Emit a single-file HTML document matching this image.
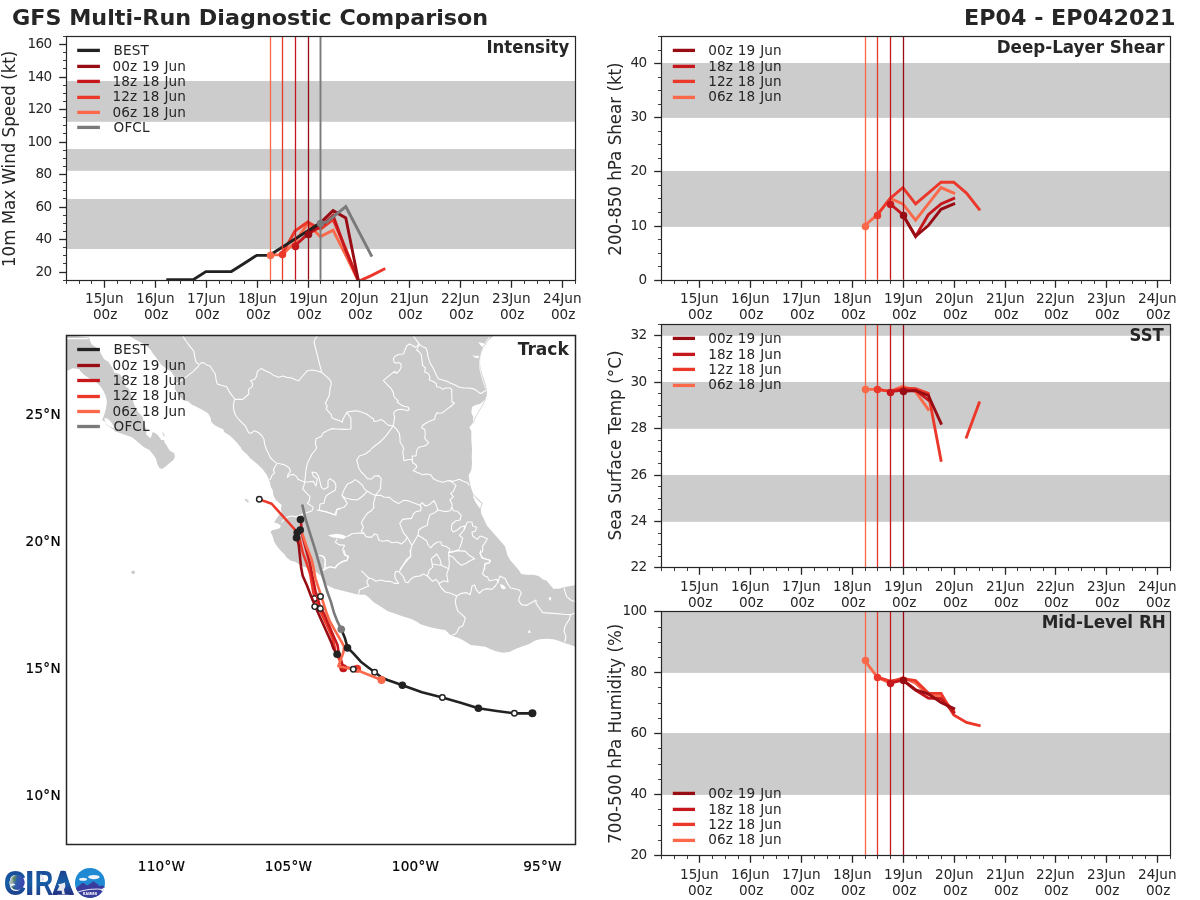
<!DOCTYPE html>
<html lang="en">
<head>
<meta charset="utf-8">
<title>GFS Multi-Run Diagnostic Comparison - EP04 - EP042021</title>
<style>
html,body{margin:0;padding:0;background:#fff;}
body{width:1200px;height:900px;overflow:hidden;font-family:"DejaVu Sans","Liberation Sans",sans-serif;}
svg{display:block;}
</style>
</head>
<body>
<svg width="1200" height="900" viewBox="0 0 1200 900" font-family="'DejaVu Sans', 'Liberation Sans', sans-serif" fill="#262626">
<rect width="1200" height="900" fill="#ffffff"/>
<defs>
<clipPath id="c1"><rect x="66.5" y="36.5" width="509" height="244"/></clipPath>
<clipPath id="c2"><rect x="661.5" y="36.5" width="509" height="244"/></clipPath>
<clipPath id="c3"><rect x="661.5" y="324.5" width="509" height="243"/></clipPath>
<clipPath id="c4"><rect x="661.5" y="611.5" width="509" height="244"/></clipPath>
<clipPath id="cm"><rect x="66.5" y="335.5" width="509" height="509"/></clipPath>
</defs>
<text transform="translate(12,24.8) scale(1.065,1)" font-size="20.9" font-weight="bold">GFS Multi-Run Diagnostic Comparison</text>
<text transform="translate(1175.5,24.8) scale(1.065,1)" font-size="20.9" font-weight="bold" text-anchor="end">EP04 - EP042021</text>
<rect x="66.5" y="81" width="509" height="40.8" fill="#cccccc"/>
<rect x="66.5" y="149" width="509" height="21.8" fill="#cccccc"/>
<rect x="66.5" y="199" width="509" height="50" fill="#cccccc"/>
<g clip-path="url(#c1)">
<polyline points="269.5,254.84 282.22,254.84 294.94,242.33 307.66,223.65 320.38,236.65 333.09,230.15 345.81,255.33 358.53,281.32" fill="none" stroke="#fb694a" stroke-width="2.9" stroke-linejoin="miter" stroke-linecap="square"/>
<polyline points="282.22,254.03 294.94,230.96 307.66,222.02 320.38,229.34 333.09,219.59 345.81,248.83 358.53,281.32 371.25,275.64 383.97,269.14" fill="none" stroke="#ec382b" stroke-width="2.9" stroke-linejoin="miter" stroke-linecap="square"/>
<polyline points="294.94,245.58 307.66,234.21 320.38,226.9 333.09,215.53 345.81,250.46 358.53,281.32" fill="none" stroke="#c5171c" stroke-width="2.9" stroke-linejoin="miter" stroke-linecap="square"/>
<polyline points="307.66,234.21 320.38,222.84 333.09,210.65 345.81,217.96 358.53,281.32" fill="none" stroke="#980c13" stroke-width="2.9" stroke-linejoin="miter" stroke-linecap="square"/>
<polyline points="167.75,279.7 180.47,279.7 193.19,279.7 205.91,271.58 218.62,271.58 231.34,271.58 244.06,263.45 256.78,255.33 269.5,255.33 282.22,247.21 294.94,239.08 307.66,230.96 320.38,222.84" fill="none" stroke="#222222" stroke-width="2.9" stroke-linejoin="miter" stroke-linecap="square"/>
<polyline points="320.38,222.84 326.68,222.19 345.81,206.59 371.25,255.33" fill="none" stroke="#7a7a7a" stroke-width="2.9" stroke-linejoin="miter" stroke-linecap="square"/>
<line x1="270.5" x2="270.5" y1="36" y2="279.7" stroke="#fb694a" stroke-width="1.3"/>
<line x1="282.5" x2="282.5" y1="36" y2="279.7" stroke="#ec382b" stroke-width="1.3"/>
<line x1="295.5" x2="295.5" y1="36" y2="279.7" stroke="#c5171c" stroke-width="1.3"/>
<line x1="308.5" x2="308.5" y1="36" y2="279.7" stroke="#980c13" stroke-width="1.3"/>
<line x1="320.5" x2="320.5" y1="36" y2="279.7" stroke="#7a7a7a" stroke-width="1.9"/>
<circle cx="270.5" cy="255.5" r="3.75" fill="#fb694a"/>
<circle cx="282.5" cy="254.5" r="3.75" fill="#ec382b"/>
<circle cx="295.5" cy="246.5" r="3.75" fill="#c5171c"/>
<circle cx="308.5" cy="234.5" r="3.75" fill="#980c13"/>
<circle cx="320.5" cy="223.5" r="3.75" fill="#7a7a7a"/>
</g>
<rect x="66.5" y="36.5" width="509" height="244" fill="none" stroke="#262626" stroke-width="1.2"/>
<line x1="63" x2="66.5" y1="280.5" y2="280.5" stroke="#262626" stroke-width="0.9"/>
<line x1="59.2" x2="66.5" y1="272.5" y2="272.5" stroke="#262626" stroke-width="1.3"/>
<text x="51.6" y="275.9" text-anchor="end" font-size="13.6" letter-spacing="-0.6">20</text>
<line x1="63" x2="66.5" y1="263.5" y2="263.5" stroke="#262626" stroke-width="0.9"/>
<line x1="63" x2="66.5" y1="255.5" y2="255.5" stroke="#262626" stroke-width="0.9"/>
<line x1="63" x2="66.5" y1="247.5" y2="247.5" stroke="#262626" stroke-width="0.9"/>
<line x1="59.2" x2="66.5" y1="239.5" y2="239.5" stroke="#262626" stroke-width="1.3"/>
<text x="51.6" y="242.9" text-anchor="end" font-size="13.6" letter-spacing="-0.6">40</text>
<line x1="63" x2="66.5" y1="231.5" y2="231.5" stroke="#262626" stroke-width="0.9"/>
<line x1="63" x2="66.5" y1="223.5" y2="223.5" stroke="#262626" stroke-width="0.9"/>
<line x1="63" x2="66.5" y1="215.5" y2="215.5" stroke="#262626" stroke-width="0.9"/>
<line x1="59.2" x2="66.5" y1="207.5" y2="207.5" stroke="#262626" stroke-width="1.3"/>
<text x="51.6" y="210.9" text-anchor="end" font-size="13.6" letter-spacing="-0.6">60</text>
<line x1="63" x2="66.5" y1="198.5" y2="198.5" stroke="#262626" stroke-width="0.9"/>
<line x1="63" x2="66.5" y1="190.5" y2="190.5" stroke="#262626" stroke-width="0.9"/>
<line x1="63" x2="66.5" y1="182.5" y2="182.5" stroke="#262626" stroke-width="0.9"/>
<line x1="59.2" x2="66.5" y1="174.5" y2="174.5" stroke="#262626" stroke-width="1.3"/>
<text x="51.6" y="177.9" text-anchor="end" font-size="13.6" letter-spacing="-0.6">80</text>
<line x1="63" x2="66.5" y1="166.5" y2="166.5" stroke="#262626" stroke-width="0.9"/>
<line x1="63" x2="66.5" y1="158.5" y2="158.5" stroke="#262626" stroke-width="0.9"/>
<line x1="63" x2="66.5" y1="150.5" y2="150.5" stroke="#262626" stroke-width="0.9"/>
<line x1="59.2" x2="66.5" y1="142.5" y2="142.5" stroke="#262626" stroke-width="1.3"/>
<text x="51.6" y="145.9" text-anchor="end" font-size="13.6" letter-spacing="-0.6">100</text>
<line x1="63" x2="66.5" y1="133.5" y2="133.5" stroke="#262626" stroke-width="0.9"/>
<line x1="63" x2="66.5" y1="125.5" y2="125.5" stroke="#262626" stroke-width="0.9"/>
<line x1="63" x2="66.5" y1="117.5" y2="117.5" stroke="#262626" stroke-width="0.9"/>
<line x1="59.2" x2="66.5" y1="109.5" y2="109.5" stroke="#262626" stroke-width="1.3"/>
<text x="51.6" y="112.9" text-anchor="end" font-size="13.6" letter-spacing="-0.6">120</text>
<line x1="63" x2="66.5" y1="101.5" y2="101.5" stroke="#262626" stroke-width="0.9"/>
<line x1="63" x2="66.5" y1="93.5" y2="93.5" stroke="#262626" stroke-width="0.9"/>
<line x1="63" x2="66.5" y1="85.5" y2="85.5" stroke="#262626" stroke-width="0.9"/>
<line x1="59.2" x2="66.5" y1="77.5" y2="77.5" stroke="#262626" stroke-width="1.3"/>
<text x="51.6" y="80.9" text-anchor="end" font-size="13.6" letter-spacing="-0.6">140</text>
<line x1="63" x2="66.5" y1="68.5" y2="68.5" stroke="#262626" stroke-width="0.9"/>
<line x1="63" x2="66.5" y1="60.5" y2="60.5" stroke="#262626" stroke-width="0.9"/>
<line x1="63" x2="66.5" y1="52.5" y2="52.5" stroke="#262626" stroke-width="0.9"/>
<line x1="59.2" x2="66.5" y1="44.5" y2="44.5" stroke="#262626" stroke-width="1.3"/>
<text x="51.6" y="47.9" text-anchor="end" font-size="13.6" letter-spacing="-0.6">160</text>
<line x1="63" x2="66.5" y1="36.5" y2="36.5" stroke="#262626" stroke-width="0.9"/>
<line x1="66.5" x2="66.5" y1="280.5" y2="284" stroke="#262626" stroke-width="0.9"/>
<line x1="79.5" x2="79.5" y1="280.5" y2="284" stroke="#262626" stroke-width="0.9"/>
<line x1="91.5" x2="91.5" y1="280.5" y2="284" stroke="#262626" stroke-width="0.9"/>
<line x1="104.5" x2="104.5" y1="280.5" y2="287.8" stroke="#262626" stroke-width="1.3"/>
<line x1="117.5" x2="117.5" y1="280.5" y2="284" stroke="#262626" stroke-width="0.9"/>
<line x1="130.5" x2="130.5" y1="280.5" y2="284" stroke="#262626" stroke-width="0.9"/>
<line x1="142.5" x2="142.5" y1="280.5" y2="284" stroke="#262626" stroke-width="0.9"/>
<line x1="155.5" x2="155.5" y1="280.5" y2="287.8" stroke="#262626" stroke-width="1.3"/>
<line x1="168.5" x2="168.5" y1="280.5" y2="284" stroke="#262626" stroke-width="0.9"/>
<line x1="180.5" x2="180.5" y1="280.5" y2="284" stroke="#262626" stroke-width="0.9"/>
<line x1="193.5" x2="193.5" y1="280.5" y2="284" stroke="#262626" stroke-width="0.9"/>
<line x1="206.5" x2="206.5" y1="280.5" y2="287.8" stroke="#262626" stroke-width="1.3"/>
<line x1="219.5" x2="219.5" y1="280.5" y2="284" stroke="#262626" stroke-width="0.9"/>
<line x1="231.5" x2="231.5" y1="280.5" y2="284" stroke="#262626" stroke-width="0.9"/>
<line x1="244.5" x2="244.5" y1="280.5" y2="284" stroke="#262626" stroke-width="0.9"/>
<line x1="257.5" x2="257.5" y1="280.5" y2="287.8" stroke="#262626" stroke-width="1.3"/>
<line x1="270.5" x2="270.5" y1="280.5" y2="284" stroke="#262626" stroke-width="0.9"/>
<line x1="282.5" x2="282.5" y1="280.5" y2="284" stroke="#262626" stroke-width="0.9"/>
<line x1="295.5" x2="295.5" y1="280.5" y2="284" stroke="#262626" stroke-width="0.9"/>
<line x1="308.5" x2="308.5" y1="280.5" y2="287.8" stroke="#262626" stroke-width="1.3"/>
<line x1="320.5" x2="320.5" y1="280.5" y2="284" stroke="#262626" stroke-width="0.9"/>
<line x1="333.5" x2="333.5" y1="280.5" y2="284" stroke="#262626" stroke-width="0.9"/>
<line x1="346.5" x2="346.5" y1="280.5" y2="284" stroke="#262626" stroke-width="0.9"/>
<line x1="359.5" x2="359.5" y1="280.5" y2="287.8" stroke="#262626" stroke-width="1.3"/>
<line x1="371.5" x2="371.5" y1="280.5" y2="284" stroke="#262626" stroke-width="0.9"/>
<line x1="384.5" x2="384.5" y1="280.5" y2="284" stroke="#262626" stroke-width="0.9"/>
<line x1="397.5" x2="397.5" y1="280.5" y2="284" stroke="#262626" stroke-width="0.9"/>
<line x1="409.5" x2="409.5" y1="280.5" y2="287.8" stroke="#262626" stroke-width="1.3"/>
<line x1="422.5" x2="422.5" y1="280.5" y2="284" stroke="#262626" stroke-width="0.9"/>
<line x1="435.5" x2="435.5" y1="280.5" y2="284" stroke="#262626" stroke-width="0.9"/>
<line x1="448.5" x2="448.5" y1="280.5" y2="284" stroke="#262626" stroke-width="0.9"/>
<line x1="460.5" x2="460.5" y1="280.5" y2="287.8" stroke="#262626" stroke-width="1.3"/>
<line x1="473.5" x2="473.5" y1="280.5" y2="284" stroke="#262626" stroke-width="0.9"/>
<line x1="486.5" x2="486.5" y1="280.5" y2="284" stroke="#262626" stroke-width="0.9"/>
<line x1="498.5" x2="498.5" y1="280.5" y2="284" stroke="#262626" stroke-width="0.9"/>
<line x1="511.5" x2="511.5" y1="280.5" y2="287.8" stroke="#262626" stroke-width="1.3"/>
<line x1="524.5" x2="524.5" y1="280.5" y2="284" stroke="#262626" stroke-width="0.9"/>
<line x1="537.5" x2="537.5" y1="280.5" y2="284" stroke="#262626" stroke-width="0.9"/>
<line x1="549.5" x2="549.5" y1="280.5" y2="284" stroke="#262626" stroke-width="0.9"/>
<line x1="562.5" x2="562.5" y1="280.5" y2="287.8" stroke="#262626" stroke-width="1.3"/>
<line x1="575.5" x2="575.5" y1="280.5" y2="284" stroke="#262626" stroke-width="0.9"/>
<text x="104.3" y="302.9" text-anchor="middle" font-size="13.6">15Jun</text>
<text x="105.1" y="318.7" text-anchor="middle" font-size="13.6">00z</text>
<text x="155.3" y="302.9" text-anchor="middle" font-size="13.6">16Jun</text>
<text x="156.1" y="318.7" text-anchor="middle" font-size="13.6">00z</text>
<text x="206.3" y="302.9" text-anchor="middle" font-size="13.6">17Jun</text>
<text x="207.1" y="318.7" text-anchor="middle" font-size="13.6">00z</text>
<text x="257.3" y="302.9" text-anchor="middle" font-size="13.6">18Jun</text>
<text x="258.1" y="318.7" text-anchor="middle" font-size="13.6">00z</text>
<text x="308.3" y="302.9" text-anchor="middle" font-size="13.6">19Jun</text>
<text x="309.1" y="318.7" text-anchor="middle" font-size="13.6">00z</text>
<text x="359.3" y="302.9" text-anchor="middle" font-size="13.6">20Jun</text>
<text x="360.1" y="318.7" text-anchor="middle" font-size="13.6">00z</text>
<text x="409.3" y="302.9" text-anchor="middle" font-size="13.6">21Jun</text>
<text x="410.1" y="318.7" text-anchor="middle" font-size="13.6">00z</text>
<text x="460.3" y="302.9" text-anchor="middle" font-size="13.6">22Jun</text>
<text x="461.1" y="318.7" text-anchor="middle" font-size="13.6">00z</text>
<text x="511.3" y="302.9" text-anchor="middle" font-size="13.6">23Jun</text>
<text x="512.1" y="318.7" text-anchor="middle" font-size="13.6">00z</text>
<text x="562.3" y="302.9" text-anchor="middle" font-size="13.6">24Jun</text>
<text x="563.1" y="318.7" text-anchor="middle" font-size="13.6">00z</text>
<line x1="77.2" x2="99.9" y1="50.4" y2="50.4" stroke="#222222" stroke-width="3.3"/>
<text x="113.6" y="55" font-size="13.6" letter-spacing="0.1" word-spacing="0.5">BEST</text>
<line x1="77.2" x2="99.9" y1="66.4" y2="66.4" stroke="#980c13" stroke-width="3.3"/>
<text x="112.4" y="71" font-size="13.6" letter-spacing="0.1" word-spacing="0.5">00z 19 Jun</text>
<line x1="77.2" x2="99.9" y1="81.4" y2="81.4" stroke="#c5171c" stroke-width="3.3"/>
<text x="112.4" y="86" font-size="13.6" letter-spacing="0.1" word-spacing="0.5">18z 18 Jun</text>
<line x1="77.2" x2="99.9" y1="97.4" y2="97.4" stroke="#ec382b" stroke-width="3.3"/>
<text x="112.4" y="101" font-size="13.6" letter-spacing="0.1" word-spacing="0.5">12z 18 Jun</text>
<line x1="77.2" x2="99.9" y1="112.4" y2="112.4" stroke="#fb694a" stroke-width="3.3"/>
<text x="112.4" y="117" font-size="13.6" letter-spacing="0.1" word-spacing="0.5">06z 18 Jun</text>
<line x1="77.2" x2="99.9" y1="127.4" y2="127.4" stroke="#7a7a7a" stroke-width="3.3"/>
<text x="113.6" y="132" font-size="13.6" letter-spacing="0.1" word-spacing="0.5">OFCL</text>
<text transform="translate(569.2,52.7) scale(0.916,1)" text-anchor="end" font-size="18.0" font-weight="bold">Intensity</text>
<text transform="translate(14.6,158.85) rotate(-90) scale(0.9424,1)" text-anchor="middle" font-size="17.7">10m Max Wind Speed (kt)</text>
<rect x="661.5" y="63" width="509" height="54.9" fill="#cccccc"/>
<rect x="661.5" y="171" width="509" height="55.9" fill="#cccccc"/>
<g clip-path="url(#c2)">
<polyline points="864.7,225.54 877.42,214.71 890.14,198.47 902.86,203.88 915.58,220.13 928.29,203.88 941.01,187.64 953.73,193.05" fill="none" stroke="#fb694a" stroke-width="2.9" stroke-linejoin="miter" stroke-linecap="square"/>
<polyline points="877.42,214.71 890.14,198.47 902.86,187.64 915.58,203.88 928.29,193.05 941.01,182.22 953.73,182.22 966.45,193.05 979.17,209.3" fill="none" stroke="#ec382b" stroke-width="2.9" stroke-linejoin="miter" stroke-linecap="square"/>
<polyline points="890.14,203.88 902.86,214.71 915.58,236.38 928.29,214.71 941.01,203.88 953.73,198.47" fill="none" stroke="#c5171c" stroke-width="2.9" stroke-linejoin="miter" stroke-linecap="square"/>
<polyline points="902.86,214.71 915.58,236.38 928.29,225.54 941.01,209.3 953.73,203.88" fill="none" stroke="#980c13" stroke-width="2.9" stroke-linejoin="miter" stroke-linecap="square"/>
<line x1="865.5" x2="865.5" y1="36" y2="279.7" stroke="#fb694a" stroke-width="1.3"/>
<line x1="877.5" x2="877.5" y1="36" y2="279.7" stroke="#ec382b" stroke-width="1.3"/>
<line x1="890.5" x2="890.5" y1="36" y2="279.7" stroke="#c5171c" stroke-width="1.3"/>
<line x1="903.5" x2="903.5" y1="36" y2="279.7" stroke="#980c13" stroke-width="1.3"/>
<circle cx="865.5" cy="226.5" r="3.75" fill="#fb694a"/>
<circle cx="877.5" cy="215.5" r="3.75" fill="#ec382b"/>
<circle cx="890.5" cy="204.5" r="3.75" fill="#c5171c"/>
<circle cx="903.5" cy="215.5" r="3.75" fill="#980c13"/>
</g>
<rect x="661.5" y="36.5" width="509" height="244" fill="none" stroke="#262626" stroke-width="1.2"/>
<line x1="654.2" x2="661.5" y1="280.5" y2="280.5" stroke="#262626" stroke-width="1.3"/>
<text x="646.6" y="283.9" text-anchor="end" font-size="13.6" letter-spacing="-0.6">0</text>
<line x1="658" x2="661.5" y1="266.5" y2="266.5" stroke="#262626" stroke-width="0.9"/>
<line x1="658" x2="661.5" y1="253.5" y2="253.5" stroke="#262626" stroke-width="0.9"/>
<line x1="658" x2="661.5" y1="239.5" y2="239.5" stroke="#262626" stroke-width="0.9"/>
<line x1="654.2" x2="661.5" y1="226.5" y2="226.5" stroke="#262626" stroke-width="1.3"/>
<text x="646.6" y="229.9" text-anchor="end" font-size="13.6" letter-spacing="-0.6">10</text>
<line x1="658" x2="661.5" y1="212.5" y2="212.5" stroke="#262626" stroke-width="0.9"/>
<line x1="658" x2="661.5" y1="198.5" y2="198.5" stroke="#262626" stroke-width="0.9"/>
<line x1="658" x2="661.5" y1="185.5" y2="185.5" stroke="#262626" stroke-width="0.9"/>
<line x1="654.2" x2="661.5" y1="171.5" y2="171.5" stroke="#262626" stroke-width="1.3"/>
<text x="646.6" y="174.9" text-anchor="end" font-size="13.6" letter-spacing="-0.6">20</text>
<line x1="658" x2="661.5" y1="158.5" y2="158.5" stroke="#262626" stroke-width="0.9"/>
<line x1="658" x2="661.5" y1="144.5" y2="144.5" stroke="#262626" stroke-width="0.9"/>
<line x1="658" x2="661.5" y1="131.5" y2="131.5" stroke="#262626" stroke-width="0.9"/>
<line x1="654.2" x2="661.5" y1="117.5" y2="117.5" stroke="#262626" stroke-width="1.3"/>
<text x="646.6" y="120.9" text-anchor="end" font-size="13.6" letter-spacing="-0.6">30</text>
<line x1="658" x2="661.5" y1="104.5" y2="104.5" stroke="#262626" stroke-width="0.9"/>
<line x1="658" x2="661.5" y1="90.5" y2="90.5" stroke="#262626" stroke-width="0.9"/>
<line x1="658" x2="661.5" y1="77.5" y2="77.5" stroke="#262626" stroke-width="0.9"/>
<line x1="654.2" x2="661.5" y1="63.5" y2="63.5" stroke="#262626" stroke-width="1.3"/>
<text x="646.6" y="66.9" text-anchor="end" font-size="13.6" letter-spacing="-0.6">40</text>
<line x1="658" x2="661.5" y1="50.5" y2="50.5" stroke="#262626" stroke-width="0.9"/>
<line x1="658" x2="661.5" y1="36.5" y2="36.5" stroke="#262626" stroke-width="0.9"/>
<line x1="661.5" x2="661.5" y1="280.5" y2="284" stroke="#262626" stroke-width="0.9"/>
<line x1="674.5" x2="674.5" y1="280.5" y2="284" stroke="#262626" stroke-width="0.9"/>
<line x1="687.5" x2="687.5" y1="280.5" y2="284" stroke="#262626" stroke-width="0.9"/>
<line x1="699.5" x2="699.5" y1="280.5" y2="287.8" stroke="#262626" stroke-width="1.3"/>
<line x1="712.5" x2="712.5" y1="280.5" y2="284" stroke="#262626" stroke-width="0.9"/>
<line x1="725.5" x2="725.5" y1="280.5" y2="284" stroke="#262626" stroke-width="0.9"/>
<line x1="738.5" x2="738.5" y1="280.5" y2="284" stroke="#262626" stroke-width="0.9"/>
<line x1="750.5" x2="750.5" y1="280.5" y2="287.8" stroke="#262626" stroke-width="1.3"/>
<line x1="763.5" x2="763.5" y1="280.5" y2="284" stroke="#262626" stroke-width="0.9"/>
<line x1="776.5" x2="776.5" y1="280.5" y2="284" stroke="#262626" stroke-width="0.9"/>
<line x1="788.5" x2="788.5" y1="280.5" y2="284" stroke="#262626" stroke-width="0.9"/>
<line x1="801.5" x2="801.5" y1="280.5" y2="287.8" stroke="#262626" stroke-width="1.3"/>
<line x1="814.5" x2="814.5" y1="280.5" y2="284" stroke="#262626" stroke-width="0.9"/>
<line x1="827.5" x2="827.5" y1="280.5" y2="284" stroke="#262626" stroke-width="0.9"/>
<line x1="839.5" x2="839.5" y1="280.5" y2="284" stroke="#262626" stroke-width="0.9"/>
<line x1="852.5" x2="852.5" y1="280.5" y2="287.8" stroke="#262626" stroke-width="1.3"/>
<line x1="865.5" x2="865.5" y1="280.5" y2="284" stroke="#262626" stroke-width="0.9"/>
<line x1="877.5" x2="877.5" y1="280.5" y2="284" stroke="#262626" stroke-width="0.9"/>
<line x1="890.5" x2="890.5" y1="280.5" y2="284" stroke="#262626" stroke-width="0.9"/>
<line x1="903.5" x2="903.5" y1="280.5" y2="287.8" stroke="#262626" stroke-width="1.3"/>
<line x1="916.5" x2="916.5" y1="280.5" y2="284" stroke="#262626" stroke-width="0.9"/>
<line x1="928.5" x2="928.5" y1="280.5" y2="284" stroke="#262626" stroke-width="0.9"/>
<line x1="941.5" x2="941.5" y1="280.5" y2="284" stroke="#262626" stroke-width="0.9"/>
<line x1="954.5" x2="954.5" y1="280.5" y2="287.8" stroke="#262626" stroke-width="1.3"/>
<line x1="966.5" x2="966.5" y1="280.5" y2="284" stroke="#262626" stroke-width="0.9"/>
<line x1="979.5" x2="979.5" y1="280.5" y2="284" stroke="#262626" stroke-width="0.9"/>
<line x1="992.5" x2="992.5" y1="280.5" y2="284" stroke="#262626" stroke-width="0.9"/>
<line x1="1005.5" x2="1005.5" y1="280.5" y2="287.8" stroke="#262626" stroke-width="1.3"/>
<line x1="1017.5" x2="1017.5" y1="280.5" y2="284" stroke="#262626" stroke-width="0.9"/>
<line x1="1030.5" x2="1030.5" y1="280.5" y2="284" stroke="#262626" stroke-width="0.9"/>
<line x1="1043.5" x2="1043.5" y1="280.5" y2="284" stroke="#262626" stroke-width="0.9"/>
<line x1="1055.5" x2="1055.5" y1="280.5" y2="287.8" stroke="#262626" stroke-width="1.3"/>
<line x1="1068.5" x2="1068.5" y1="280.5" y2="284" stroke="#262626" stroke-width="0.9"/>
<line x1="1081.5" x2="1081.5" y1="280.5" y2="284" stroke="#262626" stroke-width="0.9"/>
<line x1="1094.5" x2="1094.5" y1="280.5" y2="284" stroke="#262626" stroke-width="0.9"/>
<line x1="1106.5" x2="1106.5" y1="280.5" y2="287.8" stroke="#262626" stroke-width="1.3"/>
<line x1="1119.5" x2="1119.5" y1="280.5" y2="284" stroke="#262626" stroke-width="0.9"/>
<line x1="1132.5" x2="1132.5" y1="280.5" y2="284" stroke="#262626" stroke-width="0.9"/>
<line x1="1145.5" x2="1145.5" y1="280.5" y2="284" stroke="#262626" stroke-width="0.9"/>
<line x1="1157.5" x2="1157.5" y1="280.5" y2="287.8" stroke="#262626" stroke-width="1.3"/>
<line x1="1170.5" x2="1170.5" y1="280.5" y2="284" stroke="#262626" stroke-width="0.9"/>
<text x="699.3" y="302.9" text-anchor="middle" font-size="13.6">15Jun</text>
<text x="700.1" y="318.7" text-anchor="middle" font-size="13.6">00z</text>
<text x="750.3" y="302.9" text-anchor="middle" font-size="13.6">16Jun</text>
<text x="751.1" y="318.7" text-anchor="middle" font-size="13.6">00z</text>
<text x="801.3" y="302.9" text-anchor="middle" font-size="13.6">17Jun</text>
<text x="802.1" y="318.7" text-anchor="middle" font-size="13.6">00z</text>
<text x="852.3" y="302.9" text-anchor="middle" font-size="13.6">18Jun</text>
<text x="853.1" y="318.7" text-anchor="middle" font-size="13.6">00z</text>
<text x="903.3" y="302.9" text-anchor="middle" font-size="13.6">19Jun</text>
<text x="904.1" y="318.7" text-anchor="middle" font-size="13.6">00z</text>
<text x="954.3" y="302.9" text-anchor="middle" font-size="13.6">20Jun</text>
<text x="955.1" y="318.7" text-anchor="middle" font-size="13.6">00z</text>
<text x="1005.3" y="302.9" text-anchor="middle" font-size="13.6">21Jun</text>
<text x="1006.1" y="318.7" text-anchor="middle" font-size="13.6">00z</text>
<text x="1055.3" y="302.9" text-anchor="middle" font-size="13.6">22Jun</text>
<text x="1056.1" y="318.7" text-anchor="middle" font-size="13.6">00z</text>
<text x="1106.3" y="302.9" text-anchor="middle" font-size="13.6">23Jun</text>
<text x="1107.1" y="318.7" text-anchor="middle" font-size="13.6">00z</text>
<text x="1157.3" y="302.9" text-anchor="middle" font-size="13.6">24Jun</text>
<text x="1158.1" y="318.7" text-anchor="middle" font-size="13.6">00z</text>
<line x1="672.8" x2="695" y1="50.4" y2="50.4" stroke="#980c13" stroke-width="3.3"/>
<text x="708.2" y="55" font-size="13.6" letter-spacing="0.1" word-spacing="0.5">00z 19 Jun</text>
<line x1="672.8" x2="695" y1="66.4" y2="66.4" stroke="#c5171c" stroke-width="3.3"/>
<text x="708.2" y="71" font-size="13.6" letter-spacing="0.1" word-spacing="0.5">18z 18 Jun</text>
<line x1="672.8" x2="695" y1="81.4" y2="81.4" stroke="#ec382b" stroke-width="3.3"/>
<text x="708.2" y="86" font-size="13.6" letter-spacing="0.1" word-spacing="0.5">12z 18 Jun</text>
<line x1="672.8" x2="695" y1="97.4" y2="97.4" stroke="#fb694a" stroke-width="3.3"/>
<text x="708.2" y="101" font-size="13.6" letter-spacing="0.1" word-spacing="0.5">06z 18 Jun</text>
<text transform="translate(1164.6,52.7) scale(0.929,1)" text-anchor="end" font-size="18.0" font-weight="bold">Deep-Layer Shear</text>
<text transform="translate(620.9,159.05) rotate(-90) scale(0.9424,1)" text-anchor="middle" font-size="17.7">200-850 hPa Shear (kt)</text>
<rect x="661.5" y="475" width="509" height="46.8" fill="#cccccc"/>
<rect x="661.5" y="382" width="509" height="46.8" fill="#cccccc"/>
<rect x="661.5" y="324.5" width="509" height="11.3" fill="#cccccc"/>
<g clip-path="url(#c3)">
<polyline points="864.7,389.33 877.42,389.33 890.14,391.33 902.86,386.27 915.58,391.73 928.29,409.47" fill="none" stroke="#fb694a" stroke-width="2.9" stroke-linejoin="miter" stroke-linecap="square"/>
<polyline points="877.42,389.33 890.14,391.33 902.86,388.27 915.58,388.67 928.29,393.33 941.01,460.27" fill="none" stroke="#ec382b" stroke-width="2.9" stroke-linejoin="miter" stroke-linecap="square"/>
<polyline points="966.45,437.2 979.17,402.8" fill="none" stroke="#ec382b" stroke-width="2.9" stroke-linejoin="miter" stroke-linecap="square"/>
<polyline points="890.14,391.6 902.86,390.13 915.58,390.13 928.29,400" fill="none" stroke="#c5171c" stroke-width="2.9" stroke-linejoin="miter" stroke-linecap="square"/>
<polyline points="902.86,391.33 915.58,390.67 928.29,395.33 941.01,423.33" fill="none" stroke="#980c13" stroke-width="2.9" stroke-linejoin="miter" stroke-linecap="square"/>
<line x1="865.5" x2="865.5" y1="323.65" y2="567.35" stroke="#fb694a" stroke-width="1.3"/>
<line x1="877.5" x2="877.5" y1="323.65" y2="567.35" stroke="#ec382b" stroke-width="1.3"/>
<line x1="890.5" x2="890.5" y1="323.65" y2="567.35" stroke="#c5171c" stroke-width="1.3"/>
<line x1="903.5" x2="903.5" y1="323.65" y2="567.35" stroke="#980c13" stroke-width="1.3"/>
<circle cx="865.5" cy="389.5" r="3.75" fill="#fb694a"/>
<circle cx="877.5" cy="389.5" r="3.75" fill="#ec382b"/>
<circle cx="890.5" cy="392.5" r="3.75" fill="#c5171c"/>
<circle cx="903.5" cy="391.5" r="3.75" fill="#980c13"/>
</g>
<rect x="661.5" y="324.5" width="509" height="243" fill="none" stroke="#262626" stroke-width="1.2"/>
<line x1="654.2" x2="661.5" y1="567.5" y2="567.5" stroke="#262626" stroke-width="1.3"/>
<text x="646.6" y="570.9" text-anchor="end" font-size="13.6" letter-spacing="-0.6">22</text>
<line x1="658" x2="661.5" y1="556.5" y2="556.5" stroke="#262626" stroke-width="0.9"/>
<line x1="658" x2="661.5" y1="544.5" y2="544.5" stroke="#262626" stroke-width="0.9"/>
<line x1="658" x2="661.5" y1="533.5" y2="533.5" stroke="#262626" stroke-width="0.9"/>
<line x1="654.2" x2="661.5" y1="521.5" y2="521.5" stroke="#262626" stroke-width="1.3"/>
<text x="646.6" y="524.9" text-anchor="end" font-size="13.6" letter-spacing="-0.6">24</text>
<line x1="658" x2="661.5" y1="509.5" y2="509.5" stroke="#262626" stroke-width="0.9"/>
<line x1="658" x2="661.5" y1="498.5" y2="498.5" stroke="#262626" stroke-width="0.9"/>
<line x1="658" x2="661.5" y1="486.5" y2="486.5" stroke="#262626" stroke-width="0.9"/>
<line x1="654.2" x2="661.5" y1="475.5" y2="475.5" stroke="#262626" stroke-width="1.3"/>
<text x="646.6" y="478.9" text-anchor="end" font-size="13.6" letter-spacing="-0.6">26</text>
<line x1="658" x2="661.5" y1="463.5" y2="463.5" stroke="#262626" stroke-width="0.9"/>
<line x1="658" x2="661.5" y1="451.5" y2="451.5" stroke="#262626" stroke-width="0.9"/>
<line x1="658" x2="661.5" y1="440.5" y2="440.5" stroke="#262626" stroke-width="0.9"/>
<line x1="654.2" x2="661.5" y1="428.5" y2="428.5" stroke="#262626" stroke-width="1.3"/>
<text x="646.6" y="431.9" text-anchor="end" font-size="13.6" letter-spacing="-0.6">28</text>
<line x1="658" x2="661.5" y1="416.5" y2="416.5" stroke="#262626" stroke-width="0.9"/>
<line x1="658" x2="661.5" y1="405.5" y2="405.5" stroke="#262626" stroke-width="0.9"/>
<line x1="658" x2="661.5" y1="393.5" y2="393.5" stroke="#262626" stroke-width="0.9"/>
<line x1="654.2" x2="661.5" y1="382.5" y2="382.5" stroke="#262626" stroke-width="1.3"/>
<text x="646.6" y="385.9" text-anchor="end" font-size="13.6" letter-spacing="-0.6">30</text>
<line x1="658" x2="661.5" y1="370.5" y2="370.5" stroke="#262626" stroke-width="0.9"/>
<line x1="658" x2="661.5" y1="358.5" y2="358.5" stroke="#262626" stroke-width="0.9"/>
<line x1="658" x2="661.5" y1="347.5" y2="347.5" stroke="#262626" stroke-width="0.9"/>
<line x1="654.2" x2="661.5" y1="335.5" y2="335.5" stroke="#262626" stroke-width="1.3"/>
<text x="646.6" y="338.9" text-anchor="end" font-size="13.6" letter-spacing="-0.6">32</text>
<line x1="658" x2="661.5" y1="324.5" y2="324.5" stroke="#262626" stroke-width="0.9"/>
<line x1="661.5" x2="661.5" y1="567.5" y2="571" stroke="#262626" stroke-width="0.9"/>
<line x1="674.5" x2="674.5" y1="567.5" y2="571" stroke="#262626" stroke-width="0.9"/>
<line x1="687.5" x2="687.5" y1="567.5" y2="571" stroke="#262626" stroke-width="0.9"/>
<line x1="699.5" x2="699.5" y1="567.5" y2="574.8" stroke="#262626" stroke-width="1.3"/>
<line x1="712.5" x2="712.5" y1="567.5" y2="571" stroke="#262626" stroke-width="0.9"/>
<line x1="725.5" x2="725.5" y1="567.5" y2="571" stroke="#262626" stroke-width="0.9"/>
<line x1="738.5" x2="738.5" y1="567.5" y2="571" stroke="#262626" stroke-width="0.9"/>
<line x1="750.5" x2="750.5" y1="567.5" y2="574.8" stroke="#262626" stroke-width="1.3"/>
<line x1="763.5" x2="763.5" y1="567.5" y2="571" stroke="#262626" stroke-width="0.9"/>
<line x1="776.5" x2="776.5" y1="567.5" y2="571" stroke="#262626" stroke-width="0.9"/>
<line x1="788.5" x2="788.5" y1="567.5" y2="571" stroke="#262626" stroke-width="0.9"/>
<line x1="801.5" x2="801.5" y1="567.5" y2="574.8" stroke="#262626" stroke-width="1.3"/>
<line x1="814.5" x2="814.5" y1="567.5" y2="571" stroke="#262626" stroke-width="0.9"/>
<line x1="827.5" x2="827.5" y1="567.5" y2="571" stroke="#262626" stroke-width="0.9"/>
<line x1="839.5" x2="839.5" y1="567.5" y2="571" stroke="#262626" stroke-width="0.9"/>
<line x1="852.5" x2="852.5" y1="567.5" y2="574.8" stroke="#262626" stroke-width="1.3"/>
<line x1="865.5" x2="865.5" y1="567.5" y2="571" stroke="#262626" stroke-width="0.9"/>
<line x1="877.5" x2="877.5" y1="567.5" y2="571" stroke="#262626" stroke-width="0.9"/>
<line x1="890.5" x2="890.5" y1="567.5" y2="571" stroke="#262626" stroke-width="0.9"/>
<line x1="903.5" x2="903.5" y1="567.5" y2="574.8" stroke="#262626" stroke-width="1.3"/>
<line x1="916.5" x2="916.5" y1="567.5" y2="571" stroke="#262626" stroke-width="0.9"/>
<line x1="928.5" x2="928.5" y1="567.5" y2="571" stroke="#262626" stroke-width="0.9"/>
<line x1="941.5" x2="941.5" y1="567.5" y2="571" stroke="#262626" stroke-width="0.9"/>
<line x1="954.5" x2="954.5" y1="567.5" y2="574.8" stroke="#262626" stroke-width="1.3"/>
<line x1="966.5" x2="966.5" y1="567.5" y2="571" stroke="#262626" stroke-width="0.9"/>
<line x1="979.5" x2="979.5" y1="567.5" y2="571" stroke="#262626" stroke-width="0.9"/>
<line x1="992.5" x2="992.5" y1="567.5" y2="571" stroke="#262626" stroke-width="0.9"/>
<line x1="1005.5" x2="1005.5" y1="567.5" y2="574.8" stroke="#262626" stroke-width="1.3"/>
<line x1="1017.5" x2="1017.5" y1="567.5" y2="571" stroke="#262626" stroke-width="0.9"/>
<line x1="1030.5" x2="1030.5" y1="567.5" y2="571" stroke="#262626" stroke-width="0.9"/>
<line x1="1043.5" x2="1043.5" y1="567.5" y2="571" stroke="#262626" stroke-width="0.9"/>
<line x1="1055.5" x2="1055.5" y1="567.5" y2="574.8" stroke="#262626" stroke-width="1.3"/>
<line x1="1068.5" x2="1068.5" y1="567.5" y2="571" stroke="#262626" stroke-width="0.9"/>
<line x1="1081.5" x2="1081.5" y1="567.5" y2="571" stroke="#262626" stroke-width="0.9"/>
<line x1="1094.5" x2="1094.5" y1="567.5" y2="571" stroke="#262626" stroke-width="0.9"/>
<line x1="1106.5" x2="1106.5" y1="567.5" y2="574.8" stroke="#262626" stroke-width="1.3"/>
<line x1="1119.5" x2="1119.5" y1="567.5" y2="571" stroke="#262626" stroke-width="0.9"/>
<line x1="1132.5" x2="1132.5" y1="567.5" y2="571" stroke="#262626" stroke-width="0.9"/>
<line x1="1145.5" x2="1145.5" y1="567.5" y2="571" stroke="#262626" stroke-width="0.9"/>
<line x1="1157.5" x2="1157.5" y1="567.5" y2="574.8" stroke="#262626" stroke-width="1.3"/>
<line x1="1170.5" x2="1170.5" y1="567.5" y2="571" stroke="#262626" stroke-width="0.9"/>
<text x="699.3" y="590.8" text-anchor="middle" font-size="13.6">15Jun</text>
<text x="700.1" y="606.6" text-anchor="middle" font-size="13.6">00z</text>
<text x="750.3" y="590.8" text-anchor="middle" font-size="13.6">16Jun</text>
<text x="751.1" y="606.6" text-anchor="middle" font-size="13.6">00z</text>
<text x="801.3" y="590.8" text-anchor="middle" font-size="13.6">17Jun</text>
<text x="802.1" y="606.6" text-anchor="middle" font-size="13.6">00z</text>
<text x="852.3" y="590.8" text-anchor="middle" font-size="13.6">18Jun</text>
<text x="853.1" y="606.6" text-anchor="middle" font-size="13.6">00z</text>
<text x="903.3" y="590.8" text-anchor="middle" font-size="13.6">19Jun</text>
<text x="904.1" y="606.6" text-anchor="middle" font-size="13.6">00z</text>
<text x="954.3" y="590.8" text-anchor="middle" font-size="13.6">20Jun</text>
<text x="955.1" y="606.6" text-anchor="middle" font-size="13.6">00z</text>
<text x="1005.3" y="590.8" text-anchor="middle" font-size="13.6">21Jun</text>
<text x="1006.1" y="606.6" text-anchor="middle" font-size="13.6">00z</text>
<text x="1055.3" y="590.8" text-anchor="middle" font-size="13.6">22Jun</text>
<text x="1056.1" y="606.6" text-anchor="middle" font-size="13.6">00z</text>
<text x="1106.3" y="590.8" text-anchor="middle" font-size="13.6">23Jun</text>
<text x="1107.1" y="606.6" text-anchor="middle" font-size="13.6">00z</text>
<text x="1157.3" y="590.8" text-anchor="middle" font-size="13.6">24Jun</text>
<text x="1158.1" y="606.6" text-anchor="middle" font-size="13.6">00z</text>
<line x1="672.8" x2="695" y1="338.4" y2="338.4" stroke="#980c13" stroke-width="3.3"/>
<text x="708.2" y="343" font-size="13.6" letter-spacing="0.1" word-spacing="0.5">00z 19 Jun</text>
<line x1="672.8" x2="695" y1="354.4" y2="354.4" stroke="#c5171c" stroke-width="3.3"/>
<text x="708.2" y="359" font-size="13.6" letter-spacing="0.1" word-spacing="0.5">18z 18 Jun</text>
<line x1="672.8" x2="695" y1="369.4" y2="369.4" stroke="#ec382b" stroke-width="3.3"/>
<text x="708.2" y="374" font-size="13.6" letter-spacing="0.1" word-spacing="0.5">12z 18 Jun</text>
<line x1="672.8" x2="695" y1="385.4" y2="385.4" stroke="#fb694a" stroke-width="3.3"/>
<text x="708.2" y="389" font-size="13.6" letter-spacing="0.1" word-spacing="0.5">06z 18 Jun</text>
<text transform="translate(1163.8,340.7) scale(0.916,1)" text-anchor="end" font-size="18.0" font-weight="bold">SST</text>
<text transform="translate(620.7,445.5) rotate(-90) scale(0.954,1)" text-anchor="middle" font-size="17.7">Sea Surface Temp (°C)</text>
<rect x="661.5" y="733" width="509" height="61.9" fill="#cccccc"/>
<rect x="661.5" y="611.5" width="509" height="61.4" fill="#cccccc"/>
<g clip-path="url(#c4)">
<polyline points="864.7,660.38 877.42,677.25 890.14,683.12 902.86,677.5 915.58,683.12 928.29,695 941.01,696.88 953.73,711.25" fill="none" stroke="#fb694a" stroke-width="2.9" stroke-linejoin="miter" stroke-linecap="square"/>
<polyline points="877.42,677.25 890.14,681.25 902.86,678.75 915.58,680.62 928.29,693.12 941.01,693.5 953.73,715 966.45,722.5 979.17,725.62" fill="none" stroke="#ec382b" stroke-width="2.9" stroke-linejoin="miter" stroke-linecap="square"/>
<polyline points="890.14,683.12 902.86,680 915.58,690 928.29,698.12 941.01,698.75 953.73,712.5" fill="none" stroke="#c5171c" stroke-width="2.9" stroke-linejoin="miter" stroke-linecap="square"/>
<polyline points="902.86,680.25 915.58,690 928.29,693.75 941.01,702.5 953.73,708.5" fill="none" stroke="#980c13" stroke-width="2.9" stroke-linejoin="miter" stroke-linecap="square"/>
<line x1="865.5" x2="865.5" y1="611.3" y2="855" stroke="#fb694a" stroke-width="1.3"/>
<line x1="877.5" x2="877.5" y1="611.3" y2="855" stroke="#ec382b" stroke-width="1.3"/>
<line x1="890.5" x2="890.5" y1="611.3" y2="855" stroke="#c5171c" stroke-width="1.3"/>
<line x1="903.5" x2="903.5" y1="611.3" y2="855" stroke="#980c13" stroke-width="1.3"/>
<circle cx="865.5" cy="660.5" r="3.75" fill="#fb694a"/>
<circle cx="877.5" cy="677.5" r="3.75" fill="#ec382b"/>
<circle cx="890.5" cy="683.5" r="3.75" fill="#c5171c"/>
<circle cx="903.5" cy="680.5" r="3.75" fill="#980c13"/>
</g>
<rect x="661.5" y="611.5" width="509" height="244" fill="none" stroke="#262626" stroke-width="1.2"/>
<line x1="654.2" x2="661.5" y1="855.5" y2="855.5" stroke="#262626" stroke-width="1.3"/>
<text x="646.6" y="858.9" text-anchor="end" font-size="13.6" letter-spacing="-0.6">20</text>
<line x1="658" x2="661.5" y1="840.5" y2="840.5" stroke="#262626" stroke-width="0.9"/>
<line x1="658" x2="661.5" y1="825.5" y2="825.5" stroke="#262626" stroke-width="0.9"/>
<line x1="658" x2="661.5" y1="809.5" y2="809.5" stroke="#262626" stroke-width="0.9"/>
<line x1="654.2" x2="661.5" y1="794.5" y2="794.5" stroke="#262626" stroke-width="1.3"/>
<text x="646.6" y="797.9" text-anchor="end" font-size="13.6" letter-spacing="-0.6">40</text>
<line x1="658" x2="661.5" y1="779.5" y2="779.5" stroke="#262626" stroke-width="0.9"/>
<line x1="658" x2="661.5" y1="764.5" y2="764.5" stroke="#262626" stroke-width="0.9"/>
<line x1="658" x2="661.5" y1="748.5" y2="748.5" stroke="#262626" stroke-width="0.9"/>
<line x1="654.2" x2="661.5" y1="733.5" y2="733.5" stroke="#262626" stroke-width="1.3"/>
<text x="646.6" y="736.9" text-anchor="end" font-size="13.6" letter-spacing="-0.6">60</text>
<line x1="658" x2="661.5" y1="718.5" y2="718.5" stroke="#262626" stroke-width="0.9"/>
<line x1="658" x2="661.5" y1="703.5" y2="703.5" stroke="#262626" stroke-width="0.9"/>
<line x1="658" x2="661.5" y1="687.5" y2="687.5" stroke="#262626" stroke-width="0.9"/>
<line x1="654.2" x2="661.5" y1="672.5" y2="672.5" stroke="#262626" stroke-width="1.3"/>
<text x="646.6" y="675.9" text-anchor="end" font-size="13.6" letter-spacing="-0.6">80</text>
<line x1="658" x2="661.5" y1="657.5" y2="657.5" stroke="#262626" stroke-width="0.9"/>
<line x1="658" x2="661.5" y1="642.5" y2="642.5" stroke="#262626" stroke-width="0.9"/>
<line x1="658" x2="661.5" y1="627.5" y2="627.5" stroke="#262626" stroke-width="0.9"/>
<line x1="654.2" x2="661.5" y1="611.5" y2="611.5" stroke="#262626" stroke-width="1.3"/>
<text x="646.6" y="614.9" text-anchor="end" font-size="13.6" letter-spacing="-0.6">100</text>
<line x1="661.5" x2="661.5" y1="855.5" y2="859" stroke="#262626" stroke-width="0.9"/>
<line x1="674.5" x2="674.5" y1="855.5" y2="859" stroke="#262626" stroke-width="0.9"/>
<line x1="687.5" x2="687.5" y1="855.5" y2="859" stroke="#262626" stroke-width="0.9"/>
<line x1="699.5" x2="699.5" y1="855.5" y2="862.8" stroke="#262626" stroke-width="1.3"/>
<line x1="712.5" x2="712.5" y1="855.5" y2="859" stroke="#262626" stroke-width="0.9"/>
<line x1="725.5" x2="725.5" y1="855.5" y2="859" stroke="#262626" stroke-width="0.9"/>
<line x1="738.5" x2="738.5" y1="855.5" y2="859" stroke="#262626" stroke-width="0.9"/>
<line x1="750.5" x2="750.5" y1="855.5" y2="862.8" stroke="#262626" stroke-width="1.3"/>
<line x1="763.5" x2="763.5" y1="855.5" y2="859" stroke="#262626" stroke-width="0.9"/>
<line x1="776.5" x2="776.5" y1="855.5" y2="859" stroke="#262626" stroke-width="0.9"/>
<line x1="788.5" x2="788.5" y1="855.5" y2="859" stroke="#262626" stroke-width="0.9"/>
<line x1="801.5" x2="801.5" y1="855.5" y2="862.8" stroke="#262626" stroke-width="1.3"/>
<line x1="814.5" x2="814.5" y1="855.5" y2="859" stroke="#262626" stroke-width="0.9"/>
<line x1="827.5" x2="827.5" y1="855.5" y2="859" stroke="#262626" stroke-width="0.9"/>
<line x1="839.5" x2="839.5" y1="855.5" y2="859" stroke="#262626" stroke-width="0.9"/>
<line x1="852.5" x2="852.5" y1="855.5" y2="862.8" stroke="#262626" stroke-width="1.3"/>
<line x1="865.5" x2="865.5" y1="855.5" y2="859" stroke="#262626" stroke-width="0.9"/>
<line x1="877.5" x2="877.5" y1="855.5" y2="859" stroke="#262626" stroke-width="0.9"/>
<line x1="890.5" x2="890.5" y1="855.5" y2="859" stroke="#262626" stroke-width="0.9"/>
<line x1="903.5" x2="903.5" y1="855.5" y2="862.8" stroke="#262626" stroke-width="1.3"/>
<line x1="916.5" x2="916.5" y1="855.5" y2="859" stroke="#262626" stroke-width="0.9"/>
<line x1="928.5" x2="928.5" y1="855.5" y2="859" stroke="#262626" stroke-width="0.9"/>
<line x1="941.5" x2="941.5" y1="855.5" y2="859" stroke="#262626" stroke-width="0.9"/>
<line x1="954.5" x2="954.5" y1="855.5" y2="862.8" stroke="#262626" stroke-width="1.3"/>
<line x1="966.5" x2="966.5" y1="855.5" y2="859" stroke="#262626" stroke-width="0.9"/>
<line x1="979.5" x2="979.5" y1="855.5" y2="859" stroke="#262626" stroke-width="0.9"/>
<line x1="992.5" x2="992.5" y1="855.5" y2="859" stroke="#262626" stroke-width="0.9"/>
<line x1="1005.5" x2="1005.5" y1="855.5" y2="862.8" stroke="#262626" stroke-width="1.3"/>
<line x1="1017.5" x2="1017.5" y1="855.5" y2="859" stroke="#262626" stroke-width="0.9"/>
<line x1="1030.5" x2="1030.5" y1="855.5" y2="859" stroke="#262626" stroke-width="0.9"/>
<line x1="1043.5" x2="1043.5" y1="855.5" y2="859" stroke="#262626" stroke-width="0.9"/>
<line x1="1055.5" x2="1055.5" y1="855.5" y2="862.8" stroke="#262626" stroke-width="1.3"/>
<line x1="1068.5" x2="1068.5" y1="855.5" y2="859" stroke="#262626" stroke-width="0.9"/>
<line x1="1081.5" x2="1081.5" y1="855.5" y2="859" stroke="#262626" stroke-width="0.9"/>
<line x1="1094.5" x2="1094.5" y1="855.5" y2="859" stroke="#262626" stroke-width="0.9"/>
<line x1="1106.5" x2="1106.5" y1="855.5" y2="862.8" stroke="#262626" stroke-width="1.3"/>
<line x1="1119.5" x2="1119.5" y1="855.5" y2="859" stroke="#262626" stroke-width="0.9"/>
<line x1="1132.5" x2="1132.5" y1="855.5" y2="859" stroke="#262626" stroke-width="0.9"/>
<line x1="1145.5" x2="1145.5" y1="855.5" y2="859" stroke="#262626" stroke-width="0.9"/>
<line x1="1157.5" x2="1157.5" y1="855.5" y2="862.8" stroke="#262626" stroke-width="1.3"/>
<line x1="1170.5" x2="1170.5" y1="855.5" y2="859" stroke="#262626" stroke-width="0.9"/>
<text x="699.3" y="878.8" text-anchor="middle" font-size="13.6">15Jun</text>
<text x="700.1" y="894.6" text-anchor="middle" font-size="13.6">00z</text>
<text x="750.3" y="878.8" text-anchor="middle" font-size="13.6">16Jun</text>
<text x="751.1" y="894.6" text-anchor="middle" font-size="13.6">00z</text>
<text x="801.3" y="878.8" text-anchor="middle" font-size="13.6">17Jun</text>
<text x="802.1" y="894.6" text-anchor="middle" font-size="13.6">00z</text>
<text x="852.3" y="878.8" text-anchor="middle" font-size="13.6">18Jun</text>
<text x="853.1" y="894.6" text-anchor="middle" font-size="13.6">00z</text>
<text x="903.3" y="878.8" text-anchor="middle" font-size="13.6">19Jun</text>
<text x="904.1" y="894.6" text-anchor="middle" font-size="13.6">00z</text>
<text x="954.3" y="878.8" text-anchor="middle" font-size="13.6">20Jun</text>
<text x="955.1" y="894.6" text-anchor="middle" font-size="13.6">00z</text>
<text x="1005.3" y="878.8" text-anchor="middle" font-size="13.6">21Jun</text>
<text x="1006.1" y="894.6" text-anchor="middle" font-size="13.6">00z</text>
<text x="1055.3" y="878.8" text-anchor="middle" font-size="13.6">22Jun</text>
<text x="1056.1" y="894.6" text-anchor="middle" font-size="13.6">00z</text>
<text x="1106.3" y="878.8" text-anchor="middle" font-size="13.6">23Jun</text>
<text x="1107.1" y="894.6" text-anchor="middle" font-size="13.6">00z</text>
<text x="1157.3" y="878.8" text-anchor="middle" font-size="13.6">24Jun</text>
<text x="1158.1" y="894.6" text-anchor="middle" font-size="13.6">00z</text>
<line x1="672.8" x2="695" y1="793.4" y2="793.4" stroke="#980c13" stroke-width="3.3"/>
<text x="708.2" y="798" font-size="13.6" letter-spacing="0.1" word-spacing="0.5">00z 19 Jun</text>
<line x1="672.8" x2="695" y1="809.4" y2="809.4" stroke="#c5171c" stroke-width="3.3"/>
<text x="708.2" y="814" font-size="13.6" letter-spacing="0.1" word-spacing="0.5">18z 18 Jun</text>
<line x1="672.8" x2="695" y1="824.4" y2="824.4" stroke="#ec382b" stroke-width="3.3"/>
<text x="708.2" y="829" font-size="13.6" letter-spacing="0.1" word-spacing="0.5">12z 18 Jun</text>
<line x1="672.8" x2="695" y1="840.4" y2="840.4" stroke="#fb694a" stroke-width="3.3"/>
<text x="708.2" y="844" font-size="13.6" letter-spacing="0.1" word-spacing="0.5">06z 18 Jun</text>
<text transform="translate(1165.8,627.7) scale(0.931,1)" text-anchor="end" font-size="18.0" font-weight="bold">Mid-Level RH</text>
<text transform="translate(620.7,733.75) rotate(-90) scale(0.9424,1)" text-anchor="middle" font-size="17.7">700-500 hPa Humidity (%)</text>
<g clip-path="url(#cm)">
<path d="M66,335 L89.17,337.5 L90,340.83 L91.67,344.17 L95,346.67 L99.17,350 L101.67,355 L104.17,359.17 L108.33,361.67 L110,364.17 L112.5,368.33 L114.17,372.5 L117.5,373.33 L120,374.17 L123.33,380 L125.83,386.67 L128.33,388.33 L130.83,393.33 L132.5,399.17 L134.17,405 L133.33,402.67 L134.67,405.33 L136,408.67 L138,412 L140.67,414.67 L142.67,417.33 L143.33,420 L144,422.67 L145.33,426.67 L146.67,430 L146,434 L148,436 L150,438 L151.67,436 L152,433.33 L153.33,432 L155.33,433.33 L158,435.33 L160,438 L161.33,440 L164,440 L164.67,442.67 L166.67,445.33 L168,448 L170,450.67 L173.33,452.67 L174,452.67 L174.93,456.67 L173.33,460 L169.33,463.33 L165.33,466.67 L162,468.93 L159.33,468 L157.33,464 L156,458.67 L153.33,454.67 L149.33,450 L144,447.33 L138.67,442.67 L132,437.33 L122.67,434 L114.67,431.33 L113.33,429.33 L110,427.33 L106.67,425.33 L105.33,422 L102,420 L103.33,417.33 L104.67,413.33 L106,408.67 L106.67,404 L107.33,400 L107.08,405 L106.67,400 L105.42,395 L103.33,390.83 L100.83,386.67 L97.5,383.33 L93.33,380 L89.17,378.33 L84.17,375 L80.83,371.67 L79.17,369.17 L76.67,368.75 L72.5,368.33 L69.17,370 L66.67,370.83 L66,370.83Z" fill="#cbcbcb"/>
<path d="M129.33,336 L134.67,339.33 L140,342 L145.33,344.67 L150.67,350 L153.33,354 L157.33,359.33 L161.33,364.67 L166.67,368.67 L170.67,371.33 L174.67,376.67 L176,380.67 L174.93,384.67 L174.67,388.67 L177.33,392.67 L180,397.33 L184,400.67 L188,401.33 L192,404.67 L197.33,407.33 L202.67,410 L208,413.33 L210.67,418 L211.33,422 L214.67,425.33 L220,428 L223.33,429.33 L224,432 L229.33,435.33 L233.33,438.67 L237.33,443.33 L240.67,447.33 L242,450 L246.67,454 L250,458 L254,461.33 L258.67,465.33 L262.67,469.33 L266.67,474.67 L268.67,478.67 L270,482.67 L270.67,486.67 L272.67,490 L273.33,495 L275.83,500 L279.17,502.92 L281.67,505 L280.83,508.75 L281.67,512.5 L279.17,515 L276.67,518.33 L274.17,522.5 L277.5,523.33 L280.83,525.42 L280,527.92 L276.67,529.17 L272.5,530 L270.42,532.08 L272.08,535 L273.33,538.33 L274.17,541.67 L276.67,545.83 L280,550 L283.33,553.33 L285,555 L286.67,557.5 L290.83,560.83 L295,561.67 L297.5,563.33 L303.33,566.67 L309.17,568.33 L316.67,572.5 L320.83,575.83 L323.33,581.67 L327.5,585.42 L334.67,588.67 L342.67,590.67 L350.67,592.67 L358.67,594.67 L365.33,594.67 L369.33,598 L373.33,602 L378.67,605.33 L384,608.67 L388,611.33 L396,614 L404,616.67 L412,619.33 L417.33,622 L420,624 L426.67,626.27 L433.33,628 L440,629.33 L445.33,630 L449.33,634 L452.67,636 L458.67,638 L464,640.67 L470.67,644.93 L477.33,645.73 L485.33,646.67 L490.67,649.33 L496,651.33 L502.67,652.67 L509.33,652 L516,648.67 L522.67,646.27 L529.33,644 L534.67,640.67 L540,639.33 L546.67,638.67 L553.33,639.33 L558.67,640.67 L564,642.67 L569.33,644.4 L576,646.93 L576,584.93 L569.33,586.27 L564,587.33 L558.67,588.67 L553.33,588.67 L550,584.67 L546.67,580.67 L542.67,579.33 L538.67,576 L533.33,574.67 L526.67,574.67 L521.33,574 L518.67,570 L514.67,565.33 L510.67,560.67 L507.33,555.33 L506,550 L505.33,546.67 L501.33,542 L496,536 L490.67,530 L486.67,525.33 L484,519.33 L481.33,514 L480.67,508.67 L482.67,503.33 L480,500.67 L476,496.67 L473.33,494 L471.33,488.67 L469.6,482 L468.67,475.33 L471.33,470 L472,463.33 L471.73,456.67 L472,450 L471.33,439.33 L471.33,431.33 L469.33,427.33 L472.67,423.33 L473.33,416.67 L471.33,412.67 L472,407.33 L476,404.67 L480,404 L485.33,399.33 L486.93,394 L486.67,388.67 L485.33,383.33 L482.67,375.33 L480.67,368.67 L480,362 L481.33,354 L484,347.33 L488,340.67 L493.33,336 L493.33,335 L129.33,335Z" fill="#cbcbcb"/>
<path d="M244.8,499.07 L246.4,498.8 L248,500.13 L249.07,502 L248.27,502.8 L246.67,502 L245.33,500.4Z" fill="#d2d2d2"/>
<path d="M131.5,571 L134,570.6 L135.3,572.6 L133.5,574.3 L131.3,573.3Z" fill="#cbcbcb"/>
<path d="M162.33,431.87 L163.33,432.67 L164.8,436 L164.13,436.53 L163,434.67Z" fill="#cbcbcb"/>
<path d="M104,418.3 L107.1,418.3 L109.3,420.2 L111.1,422 L113.8,426.4 L115.6,429.8 L113.5,428 L109.5,426.6 L107.3,425.2 L105.6,422.4Z" fill="#ffffff"/>
<path d="M328,535.33 L336,533.73 L342.67,534.67 L346.67,536.67 L343.33,539.07 L337.33,538 L332,537.33Z" fill="#ffffff"/>
<path d="M473.07,494.27 L474.93,496.67 L478.67,500.93 L481.6,503.6 L480,508.4 L478,506 L474.93,501.33 L473.33,497.33Z" fill="#ffffff"/>
<path d="M500,584 L503.33,584.93 L506,588 L504,589.6 L501.07,588Z" fill="#ffffff"/>
<path d="M548.67,597.73 L550.93,596.67 L551.2,600.4 L549.6,600.13Z" fill="#ffffff"/>
<path d="M529.33,629.47 L530.93,632.67 L527.73,632.67Z" fill="#ffffff"/>
<path d="M478,342 L482.93,343.33 L484.67,344 L482.4,347.07 L480,344.4Z" fill="#ffffff"/>
<path d="M472.27,355.07 L476,356.13 L478.93,355.6 L478.67,358.27 L474.93,357.73Z" fill="#ffffff"/>
<path d="M472.53,406.67 L475.73,405.33 L479.47,404.67 L478.13,408.67 L474.93,413.73 L473.07,416.67 L472,412.67Z" fill="#ffffff"/>
<path d="M66,338.6 L88.5,338.6" fill="none" stroke="#ffffff" stroke-width="1.1" stroke-linejoin="round" opacity="0.96"/>
<path d="M182.67,336 L186.67,342 L190.67,347.33 L194,351.33 L194.67,356.67 L196,362 L199.33,364.67" fill="none" stroke="#ffffff" stroke-width="1.1" stroke-linejoin="round" opacity="0.96"/>
<path d="M199.33,365.33 L193.33,371.33 L186.67,376.67 L180,381.33 L176,384" fill="none" stroke="#ffffff" stroke-width="1.1" stroke-linejoin="round" opacity="0.96"/>
<path d="M199.33,364.67 L202,362.4 L204.67,363.33 L207.33,365.33 L210,366 L212.67,370 L215.33,374 L216,379.33 L217.33,384 L221.33,385.33 L226.67,386.67 L228.67,390.67 L231.33,394.67 L234,398 L234.67,399.33" fill="none" stroke="#ffffff" stroke-width="1.1" stroke-linejoin="round" opacity="0.96"/>
<path d="M234.67,399.33 L242.67,399.33 L246.67,396 L248.67,394 L248.67,389.33 L252,386.67 L252.67,384 L250.67,380.67 L254.67,379.33 L256.67,376 L257.33,371.33 L261.33,368.4 L265.33,370.67 L270,372.67 L273.33,375.33 L278.67,377.33 L283.33,376 L286.67,377.33 L292,378 L296,380 L298.67,380.67 L302.67,376 L307.33,370.67 L312,370 L317.33,371.07 L321.73,372.4" fill="none" stroke="#ffffff" stroke-width="1.1" stroke-linejoin="round" opacity="0.96"/>
<path d="M321.73,372.4 L319.33,363.33 L316.67,352.67 L314,342 L315.33,338.67 L317.33,336" fill="none" stroke="#ffffff" stroke-width="1.1" stroke-linejoin="round" opacity="0.96"/>
<path d="M321.73,372.4 L326.67,376.67 L330.67,380.67 L331.33,384 L330,388.67 L329.33,395.33 L326.67,400.67 L325.33,403.33 L327.33,406 L326,408.67 L329.33,412.67 L331.33,414.67 L332,418 L336,419.6 L340,420.67" fill="none" stroke="#ffffff" stroke-width="1.1" stroke-linejoin="round" opacity="0.96"/>
<path d="M234.67,399.33 L234,402 L233.33,406 L234,411.33 L236,416 L239.33,420 L242.67,423.33 L245.33,426 L247.33,430 L248.67,432.67 L250.67,433.33 L254.67,430.67 L258.67,432.67 L262,436 L264,439.33 L264.67,444.67 L266.67,450" fill="none" stroke="#ffffff" stroke-width="1.1" stroke-linejoin="round" opacity="0.96"/>
<path d="M340,420.67 L342.4,422.27 L342.93,419.33 L344.67,416 L346.67,412.4" fill="none" stroke="#ffffff" stroke-width="1.1" stroke-linejoin="round" opacity="0.96"/>
<path d="M346.67,412.4 L350.93,418 L350.93,428.93 L344,429.33 L337.33,428.93 L331.33,428.67 L326.67,431.07 L322.67,433.33 L321.6,436.4 L320,437.07 L316,438.67 L315.33,443.33 L316.67,448 L315.33,450" fill="none" stroke="#ffffff" stroke-width="1.1" stroke-linejoin="round" opacity="0.96"/>
<path d="M346.67,412.4 L351.33,411.33 L356.67,410.8 L361.33,412 L366.67,414 L370,416.67 L373.33,418.67 L374,421.33 L377.33,420.93 L380.67,419.6 L383.33,420.67 L386,423.33 L388.67,425.33 L393.07,425.73" fill="none" stroke="#ffffff" stroke-width="1.1" stroke-linejoin="round" opacity="0.96"/>
<path d="M393.07,425.73 L394,422 L394.67,416.67 L393.6,414 L394.67,411.33 L397.33,409.73 L401.33,409.33 L405.33,410 L408,410.67 L409.33,408.67 L408,407.07 L404,406.27 L400.67,404.67 L398.67,403.07 L397.07,402 L398,400.67 L396.67,399.33 L394,396.67 L393.33,392.67 L391.33,388.67 L388,385.33 L385.33,382.67 L383.33,380.4 L388,376.67 L392,373.33 L394.67,371.33 L396.67,373.33 L399.33,370.67 L401.07,367.33 L401.07,364 L398.67,362.4 L396,363.33 L394,362 L393.33,358.67 L395.33,356 L399.33,354.27 L403.33,354 L404.67,350.67 L406.67,346 L409.33,344 L412,345.33 L415.33,347.33 L418.67,344.67 L420,344" fill="none" stroke="#ffffff" stroke-width="1.1" stroke-linejoin="round" opacity="0.96"/>
<path d="M413.33,336 L417.33,341.33 L419.33,344.4 L422.67,346.67 L426,348 L427.33,352 L428,356.67 L430,362.67 L432.67,367.33 L434.67,371.33 L436.67,376 L438.67,379.07 L442.67,380 L446.67,381.33 L450.67,383.33 L454.67,384.67 L458.67,387.07 L463.33,388 L468,388 L473.33,388.67 L476.67,390.67 L480,393.33 L481.33,393.33 L486.67,390" fill="none" stroke="#ffffff" stroke-width="1.1" stroke-linejoin="round" opacity="0.96"/>
<path d="M419.33,344.4 L416.67,350 L419.33,352 L421.33,354.67 L422,360.67 L422.67,365.33 L425.33,368 L424.67,372 L428,373.33 L430,376.67 L429.33,380 L432.67,381.33 L436,383.33 L436.67,386.67 L440,387.33 L442.67,389.33 L445.33,388 L450,388 L451.73,389.33 L451.73,395.33 L452,402 L454.4,403.07 L451.33,406 L446.67,409.33 L442.67,412.67 L440,413.33 L437.33,412.67 L435.33,415.33 L434.67,419.33 L430.67,420.67 L426.67,422.67 L422.67,425.33 L421.6,428 L424.67,429.33 L425.33,434 L424.67,438 L426.67,440.67 L428.67,442.67 L426.67,444.67 L424,446 L418.67,447.33 L417.07,450" fill="none" stroke="#ffffff" stroke-width="1.1" stroke-linejoin="round" opacity="0.96"/>
<path d="M393.07,426.27 L389.33,431.33 L385.33,436.67 L380,442 L374.67,446 L370.67,449.33" fill="none" stroke="#ffffff" stroke-width="1.1" stroke-linejoin="round" opacity="0.96"/>
<path d="M393.07,425.73 L396.67,429.33 L399.33,433.33 L400,438 L400,442 L402.67,446 L404,450" fill="none" stroke="#ffffff" stroke-width="1.1" stroke-linejoin="round" opacity="0.96"/>
<path d="M266.67,450 L268.67,454 L270.67,458 L273.33,460.67 L276.67,463.33" fill="none" stroke="#ffffff" stroke-width="1.1" stroke-linejoin="round" opacity="0.96"/>
<path d="M276.67,464 L274.67,467.33 L273.33,470 L274.67,472.67 L272,475.33 L270.67,478.67 L269.6,480" fill="none" stroke="#ffffff" stroke-width="1.1" stroke-linejoin="round" opacity="0.96"/>
<path d="M276.67,463.33 L281.33,464 L285.33,465.33 L289.33,468 L290.4,471.33 L288,474.67 L287.33,477.33 L290.67,474.67 L294,474.67 L296.67,476.67 L298,479.33 L301.33,480.67 L304.67,482" fill="none" stroke="#ffffff" stroke-width="1.1" stroke-linejoin="round" opacity="0.96"/>
<path d="M304.67,482 L305.33,476.67 L306,470 L307.33,463.33 L310,458 L312,454 L315.33,450" fill="none" stroke="#ffffff" stroke-width="1.1" stroke-linejoin="round" opacity="0.96"/>
<path d="M304.67,482 L304,485.33 L302.67,488.67 L306,492.67 L310,496.67 L309.33,500.67 L307.33,503.33 L310.67,505.33 L313.33,507.33 L312,510.67 L306.67,512.67 L300,515.33 L296,516.67 L290.67,516 L285.33,518 L281.33,522.67" fill="none" stroke="#ffffff" stroke-width="1.1" stroke-linejoin="round" opacity="0.96"/>
<path d="M304.67,482 L308,482 L313.33,481.33 L316,486 L317.33,478.67 L313.33,476 L312,472 L316,472.67 L318.67,476.67 L320,482 L321.33,487.33 L324,489.33 L328,487.33 L328,480.67 L330,478.67 L334.67,482 L336,486 L335.33,490 L330.67,492.67 L326.67,495.33 L324.67,499.33 L324,503.33 L320,504 L319.33,510 L326.67,512 L334.67,514.67 L336.67,510 L340,508.67" fill="none" stroke="#ffffff" stroke-width="1.1" stroke-linejoin="round" opacity="0.96"/>
<path d="M370.67,450 L365.33,454 L359.33,456 L356.67,460 L358,464.67 L358.67,468 L361.33,472 L364.67,475.33 L367.33,478.67 L371.33,479.07 L374.67,476 L378.67,475.6 L381.33,478.67 L380.67,483.33 L380.67,488.67 L378,492 L375.33,495.33" fill="none" stroke="#ffffff" stroke-width="1.1" stroke-linejoin="round" opacity="0.96"/>
<path d="M402.67,450 L403.33,456 L404,460.67 L408,459.6 L412.67,459.33 L412,456 L416,456 L416.67,450" fill="none" stroke="#ffffff" stroke-width="1.1" stroke-linejoin="round" opacity="0.96"/>
<path d="M412,459.33 L412.67,462.67 L416,464.67 L416.67,467.33 L413.33,470.67 L418,472.67 L422.67,474.67 L426.67,474 L430.67,474.67 L433.33,478.67 L437.33,480.67 L442.67,482.27 L448,480.67 L453.33,481.33 L459.33,479.33 L463.33,481.33 L467.33,482.67 L469.33,485.33" fill="none" stroke="#ffffff" stroke-width="1.1" stroke-linejoin="round" opacity="0.96"/>
<path d="M450,480.67 L456,485.33 L453.33,491.33 L450.67,493.33 L453.33,496.67 L450,500 L452,504 L452,507.33 L453.33,510.67 L457.33,511.33 L461.33,515.33 L460,520 L456,520.67 L452,524 L451.33,529.33 L453.33,532 L457.33,530 L461.33,526.67 L464.67,526 L464,530 L459.33,535.33 L462.67,538 L461.33,543.33 L459.33,548.67" fill="none" stroke="#ffffff" stroke-width="1.1" stroke-linejoin="round" opacity="0.96"/>
<path d="M336,515.33 L336.67,509.33 L344,507.33 L347.33,503.33 L344.67,499.33 L342,495.33 L344,490 L347.33,484 L352,482 L355.33,479.6 L358.67,482 L362.67,485.33 L364,488.67 L367.33,491.33 L372,494 L375.33,495.33" fill="none" stroke="#ffffff" stroke-width="1.1" stroke-linejoin="round" opacity="0.96"/>
<path d="M316.67,510 L326.67,512 L336,515.33" fill="none" stroke="#ffffff" stroke-width="1.1" stroke-linejoin="round" opacity="0.96"/>
<path d="M342,495.33 L345.33,498 L350.67,499.33 L357.33,500 L362.67,496 L367.33,491.33" fill="none" stroke="#ffffff" stroke-width="1.1" stroke-linejoin="round" opacity="0.96"/>
<path d="M375.33,495.33 L380.67,495.33 L384,496.93 L389.33,497.33 L393.33,500.67 L398.67,503.6 L403.33,500.4 L408,500.67 L413.33,502.67 L420,505.33 L422,502.67 L425.33,506 L429.33,504.67 L434,500.67 L436,504.67 L438,510 L441.33,510.67 L445.33,511.6 L450,510.67 L452,507.33" fill="none" stroke="#ffffff" stroke-width="1.1" stroke-linejoin="round" opacity="0.96"/>
<path d="M375.33,495.33 L374.67,499.33 L373.33,503.33 L374,507.33 L371.33,510.67 L367.33,513.33 L364,518 L361.33,522.67 L363.33,527.33 L361.33,531.6 L364,533.33" fill="none" stroke="#ffffff" stroke-width="1.1" stroke-linejoin="round" opacity="0.96"/>
<path d="M346.67,536.67 L352,533.73 L358.67,532.93 L364,533.33 L366,536.67 L371.33,537.33 L374.67,534 L377.33,534.67 L378.67,540 L382.67,541.33 L388,540.4 L392,542.67 L396.67,542 L401.33,544 L405.33,540.67 L407.33,537.33 L403.33,532.67 L401.33,527.33 L399.73,523.33 L402.67,519.33 L408,518.67 L411.33,518.67 L413.33,514 L416,511.6 L420.67,510.67 L421.33,507.33 L420,505.33" fill="none" stroke="#ffffff" stroke-width="1.1" stroke-linejoin="round" opacity="0.96"/>
<path d="M407.33,537.33 L410,542 L412,545.33 L410.67,550 L410.67,556.67 L406.67,559.33 L403.33,564.67 L400,570" fill="none" stroke="#ffffff" stroke-width="1.1" stroke-linejoin="round" opacity="0.96"/>
<path d="M412,545.33 L414.67,540.67 L418,535.33 L418.67,530 L422.67,527.33 L427.33,525.33 L428,520.67 L430,514.67 L434.67,512.67 L438,510" fill="none" stroke="#ffffff" stroke-width="1.1" stroke-linejoin="round" opacity="0.96"/>
<path d="M418,535.33 L422.67,538 L426.67,540.67 L428,544.67 L430.67,548 L433.33,544.67 L437.33,542 L440.67,542 L442,545.33 L446.67,546.67 L450,549.33 L448.67,552.67 L453.33,552 L459.33,549.33" fill="none" stroke="#ffffff" stroke-width="1.1" stroke-linejoin="round" opacity="0.96"/>
<path d="M337.33,538.67 L335.33,542 L338.67,544.67 L344.67,545.33 L342.67,549.33 L344.67,555.33 L348.67,556.67 L346.67,560.67 L342,562 L337.33,564.67 L334.67,568 L330.67,566.67 L326,568.67 L324,570" fill="none" stroke="#ffffff" stroke-width="1.1" stroke-linejoin="round" opacity="0.96"/>
<path d="M320,555.33 L324,556.67 L325.33,560.67 L325.33,566 L324,570" fill="none" stroke="#ffffff" stroke-width="1.1" stroke-linejoin="round" opacity="0.96"/>
<path d="M467.33,522 L472,522 L472.67,526 L476.67,527.33 L475.33,531.33 L472,532 L472.67,536 L477.33,539.33 L480,536 L484,537.33 L487.33,538.67 L484.67,543.33 L482.67,546 L482.67,551.33 L480,553.33 L482,558 L486.67,559.33 L490.67,560.67 L488.67,563.33 L484.67,564 L484.67,570" fill="none" stroke="#ffffff" stroke-width="1.1" stroke-linejoin="round" opacity="0.96"/>
<path d="M464,530 L467.33,522" fill="none" stroke="#ffffff" stroke-width="1.1" stroke-linejoin="round" opacity="0.96"/>
<path d="M318.67,555.33 L322.67,556 L325.33,560 L324.67,564.67 L325.33,568 L322.67,570.67" fill="none" stroke="#ffffff" stroke-width="1.1" stroke-linejoin="round" opacity="0.96"/>
<path d="M325.33,568 L329.33,566.67 L332.67,567.33 L335.33,568 L338.67,564 L342.67,561.33 L347.33,560 L348,556 L345.33,554.67 L344,550" fill="none" stroke="#ffffff" stroke-width="1.1" stroke-linejoin="round" opacity="0.96"/>
<path d="M358.67,594.67 L359.33,590 L364,588 L368.67,586 L366.67,582 L368.67,578 L372,578.67 L376,581.33 L380.67,580 L385.33,581.33 L390,581.33 L394.67,583.33 L398.67,583.33 L395.33,578.67 L394.67,574 L396,571.33 L399.33,572" fill="none" stroke="#ffffff" stroke-width="1.1" stroke-linejoin="round" opacity="0.96"/>
<path d="M361.33,570.67 L365.33,574.67 L368.67,578" fill="none" stroke="#ffffff" stroke-width="1.1" stroke-linejoin="round" opacity="0.96"/>
<path d="M399.33,572 L401.33,567.33 L404.67,563.33 L408,559.33 L410.67,556 L410,550" fill="none" stroke="#ffffff" stroke-width="1.1" stroke-linejoin="round" opacity="0.96"/>
<path d="M399.33,572 L403.33,576.67 L405.33,582 L408,582.67 L411.33,578.67 L414.67,576.67 L420,576" fill="none" stroke="#ffffff" stroke-width="1.1" stroke-linejoin="round" opacity="0.96"/>
<path d="M456.67,596 L455.33,600.67 L456,606 L458,611.33 L462,614.67 L465.33,618 L464,622.67 L462.67,626 L459.33,627.33 L457.33,631.33 L455.33,634 L452,635.07" fill="none" stroke="#ffffff" stroke-width="1.1" stroke-linejoin="round" opacity="0.96"/>
<path d="M438.67,583.33 L441.33,588 L445.33,592 L450.67,593.33 L456.67,596 L461.33,593.33 L466.67,592.67 L470,594.67 L471.33,590 L472,586 L474.67,584.93 L476,589.33 L479.33,593.33 L482.67,590 L486.67,588.67 L492,589.33 L495.33,586 L498,582 L497.33,579.33" fill="none" stroke="#ffffff" stroke-width="1.1" stroke-linejoin="round" opacity="0.96"/>
<path d="M480.67,550 L480,553.33 L482,557.33 L486,559.33 L490,560 L489.33,562.67 L485.33,563.33 L484,568.67 L482.67,574 L484.67,576 L487.33,576.67 L489.33,580.67 L493.33,580 L496.67,579.33 L498,582 L500,576 L505.33,578.67 L507.33,583.33 L510.67,588 L514.67,588.67 L519.33,590 L521.33,593.33 L519.33,597.33 L518.67,600.67 L521.33,604.67 L526.67,605.33 L531.33,602.67 L536,600 L536,603.33 L539.33,608 L542.67,612.67 L553.33,613.33 L564,614.27 L570.67,614.67 L576,612.67" fill="none" stroke="#ffffff" stroke-width="1.1" stroke-linejoin="round" opacity="0.96"/>
<path d="M570.67,614.67 L569.33,619.33 L566.67,623.33 L564.67,627.33 L564,631.33 L566,636.67 L564.67,642" fill="none" stroke="#ffffff" stroke-width="1.1" stroke-linejoin="round" opacity="0.96"/>
<path d="M564,587.6 L565.33,592.67 L566.67,596.67 L570.67,600 L576,602" fill="none" stroke="#ffffff" stroke-width="1.1" stroke-linejoin="round" opacity="0.96"/>
<path d="M448.67,552 L453.33,551.33 L458.67,550.67 L465.33,551.33 L469.33,555.33 L474.67,558.67 L470,560.67 L466,563.33 L461.33,565.33 L457.33,562 L453.33,557.33 L448.67,555.33 L448.67,552" fill="none" stroke="#ffffff" stroke-width="1.1" stroke-linejoin="round" opacity="0.96"/>
<path d="M448.67,555.33 L449.33,563.33 L448.67,568.67 L446.67,574 L448,582 L444,580.67 L439.33,583.33 L436,579.33 L432.67,581.33 L427.33,576 L423.33,574 L420,576" fill="none" stroke="#ffffff" stroke-width="1.1" stroke-linejoin="round" opacity="0.96"/>
<path d="M427.33,576 L429.33,570 L432.67,567.33 L432,563.33 L431.33,558.67 L436.67,554 L440,559.33 L441.33,565.33 L436.67,564.67 L432.67,564" fill="none" stroke="#ffffff" stroke-width="1.1" stroke-linejoin="round" opacity="0.96"/>
<path d="M441.33,565.33 L448.67,568.67" fill="none" stroke="#ffffff" stroke-width="1.1" stroke-linejoin="round" opacity="0.96"/>
<path d="M489.6,336.93 L485.07,343.33 L481.87,351.33 L479.87,360.67 L479.87,368.67 L481.87,376.67 L484.53,385.33 L485.6,388.67" fill="none" stroke="#ffffff" stroke-width="0.9" stroke-linejoin="round" opacity="0.96"/>
<path d="M486.67,394.67 L484.27,402 L480.27,408.93 L477.07,414.27 L474.4,419.6 L472.93,423.33" fill="none" stroke="#d4d4d4" stroke-width="0.9"/>
<polyline points="532.4,713.33 514.4,713.33 496.67,710.93 478.4,708.27 460.67,702.67 442.4,697.47 422,692.27 402.4,685.33 393.33,682.08 387.5,680 381.67,677.5 374.58,672.08 368.33,667.5 360.83,661.67 353.33,653.33 347.5,647.5 345,638.33 341.25,629.17" fill="none" stroke="#222222" stroke-width="2.6" stroke-linejoin="round" stroke-linecap="square"/>
<circle cx="514.4" cy="713.3" r="2.75" fill="#ffffff" stroke="#222222" stroke-width="1.45"/>
<circle cx="442.4" cy="697.5" r="2.75" fill="#ffffff" stroke="#222222" stroke-width="1.45"/>
<circle cx="374.6" cy="672.3" r="2.75" fill="#ffffff" stroke="#222222" stroke-width="1.45"/>
<polyline points="357.08,668.75 350,667.92 343.33,666.67 339.17,659.17 335,650.83 334.58,646.67 332.5,638.33 327.92,627.5 322.08,615 317.08,604.17 313.33,592.5 310,573.33 306.67,563.33 302.92,553.33 299.33,537.5 297.5,532.5 271.67,503.75 259.33,499.33" fill="none" stroke="#ec382b" stroke-width="2.6" stroke-linejoin="round" stroke-linecap="square"/>
<circle cx="357.1" cy="668.75" r="4.0" fill="#ec382b"/>
<circle cx="314.75" cy="598.5" r="2.75" fill="#ffffff" stroke="#222222" stroke-width="1.45"/>
<circle cx="259.3" cy="499.3" r="2.75" fill="#ffffff" stroke="#222222" stroke-width="1.45"/>
<polyline points="337.08,654.17 333.33,648.33 331.67,643.33 325,628.33 317.92,612.5 311.25,596.67 307.08,585.83 302.67,575.83 301,566.67 300.33,560 298.75,545 296.83,537.92" fill="none" stroke="#980c13" stroke-width="2.6" stroke-linejoin="round" stroke-linecap="square"/>
<circle cx="314.75" cy="606.6" r="2.75" fill="#ffffff" stroke="#222222" stroke-width="1.45"/>
<polyline points="343.33,668.33 340.83,659.17 338.33,650.83 337.5,645 331.67,631.67 325.42,616.67 319.58,605 315.42,590.83 312.08,574.17 309.83,563.33 307.08,553.33 303.75,540.83 301,530.42 301.25,525 300.58,520" fill="none" stroke="#c5171c" stroke-width="2.6" stroke-linejoin="round" stroke-linecap="square"/>
<circle cx="343.3" cy="668.3" r="4.0" fill="#c5171c"/>
<circle cx="320.4" cy="608.4" r="2.75" fill="#ffffff" stroke="#222222" stroke-width="1.45"/>
<polyline points="381.5,680 356.67,670 338.33,666.25 343.33,652.5 344.17,646.67 339.58,638.33 334.17,629.17 330,621.67 326.67,613.33 323.75,604.17 320,592.5 315.42,578.33 313.33,566.67 311.5,559.17 309.17,553.33 306.25,545.83 303.33,536.67 301,530.42" fill="none" stroke="#fb694a" stroke-width="2.6" stroke-linejoin="round" stroke-linecap="square"/>
<circle cx="381.5" cy="680" r="4.0" fill="#fb694a"/>
<circle cx="353.3" cy="669.3" r="2.75" fill="#ffffff" stroke="#222222" stroke-width="1.45"/>
<circle cx="320.5" cy="596.4" r="2.75" fill="#ffffff" stroke="#222222" stroke-width="1.45"/>
<polyline points="341.25,629.17 337.5,621.67 334.17,613.33 330.83,601.67 326.67,590 320,566.67 315,549.17 310,533.33 305.83,520 302.5,505.83" fill="none" stroke="#7a7a7a" stroke-width="2.6" stroke-linejoin="round" stroke-linecap="square"/>
<circle cx="341.25" cy="629.2" r="3.8" fill="#7a7a7a"/>
<circle cx="478.4" cy="708.3" r="3.8" fill="#222222"/>
<circle cx="402.4" cy="685.3" r="3.8" fill="#222222"/>
<circle cx="347.5" cy="647.9" r="3.8" fill="#222222"/>
<circle cx="337.1" cy="654.2" r="3.8" fill="#222222"/>
<circle cx="297.25" cy="532.5" r="3.8" fill="#222222"/>
<circle cx="296.5" cy="537.75" r="3.8" fill="#222222"/>
<circle cx="300.25" cy="530" r="3.8" fill="#222222"/>
<circle cx="300.5" cy="519.5" r="3.8" fill="#222222"/>
<circle cx="532.4" cy="713.3" r="4.0" fill="#222222"/>
</g>
<rect x="66.5" y="335.5" width="509" height="509" fill="none" stroke="#262626" stroke-width="1.5"/>
<text x="60.8" y="419" text-anchor="end" font-size="13.6" fill="#000000" stroke="#000000" stroke-width="0.2" letter-spacing="0.25">25°N</text>
<text x="60.8" y="546" text-anchor="end" font-size="13.6" fill="#000000" stroke="#000000" stroke-width="0.2" letter-spacing="0.25">20°N</text>
<text x="60.8" y="673" text-anchor="end" font-size="13.6" fill="#000000" stroke="#000000" stroke-width="0.2" letter-spacing="0.25">15°N</text>
<text x="60.8" y="800" text-anchor="end" font-size="13.6" fill="#000000" stroke="#000000" stroke-width="0.2" letter-spacing="0.25">10°N</text>
<text x="161.5" y="871" text-anchor="middle" font-size="13.6" fill="#000000" stroke="#000000" stroke-width="0.2" letter-spacing="0.25">110°W</text>
<text x="288.5" y="871" text-anchor="middle" font-size="13.6" fill="#000000" stroke="#000000" stroke-width="0.2" letter-spacing="0.25">105°W</text>
<text x="415.5" y="871" text-anchor="middle" font-size="13.6" fill="#000000" stroke="#000000" stroke-width="0.2" letter-spacing="0.25">100°W</text>
<text x="542.5" y="871" text-anchor="middle" font-size="13.6" fill="#000000" stroke="#000000" stroke-width="0.2" letter-spacing="0.25">95°W</text>
<line x1="77.2" x2="99.9" y1="349.5" y2="349.5" stroke="#222222" stroke-width="3.3"/>
<text x="113.6" y="354.1" font-size="13.6" letter-spacing="0.1" word-spacing="0.5">BEST</text>
<line x1="77.2" x2="99.9" y1="365.5" y2="365.5" stroke="#980c13" stroke-width="3.3"/>
<text x="112.4" y="370.1" font-size="13.6" letter-spacing="0.1" word-spacing="0.5">00z 19 Jun</text>
<line x1="77.2" x2="99.9" y1="380.5" y2="380.5" stroke="#c5171c" stroke-width="3.3"/>
<text x="112.4" y="385.1" font-size="13.6" letter-spacing="0.1" word-spacing="0.5">18z 18 Jun</text>
<line x1="77.2" x2="99.9" y1="396.5" y2="396.5" stroke="#ec382b" stroke-width="3.3"/>
<text x="112.4" y="400.1" font-size="13.6" letter-spacing="0.1" word-spacing="0.5">12z 18 Jun</text>
<line x1="77.2" x2="99.9" y1="411.5" y2="411.5" stroke="#fb694a" stroke-width="3.3"/>
<text x="112.4" y="416.1" font-size="13.6" letter-spacing="0.1" word-spacing="0.5">06z 18 Jun</text>
<line x1="77.2" x2="99.9" y1="426.5" y2="426.5" stroke="#7a7a7a" stroke-width="3.3"/>
<text x="113.6" y="431.1" font-size="13.6" letter-spacing="0.1" word-spacing="0.5">OFCL</text>
<text transform="translate(568.8,354.7) scale(0.949,1)" text-anchor="end" font-size="18.0" font-weight="bold">Track</text>
<defs>
<linearGradient id="lgC" x1="0" y1="0" x2="0" y2="1"><stop offset="0" stop-color="#1d3f8f"/><stop offset="0.5" stop-color="#165fa6"/><stop offset="1" stop-color="#252f80"/></linearGradient>
<linearGradient id="lgE" x1="0" y1="0" x2="1" y2="0.25"><stop offset="0" stop-color="#e4e8e6"/><stop offset="0.3" stop-color="#8aa39a"/><stop offset="0.5" stop-color="#2f62ad"/><stop offset="1" stop-color="#3a43ae"/></linearGradient>
<clipPath id="cR"><circle cx="90" cy="882.9" r="15"/></clipPath>
</defs>
<g>
<text y="894.7" font-family="'Liberation Sans', 'DejaVu Sans', sans-serif" font-weight="bold" font-size="34.6" fill="url(#lgC)"><tspan x="3.7" textLength="22.5" lengthAdjust="spacingAndGlyphs">C</tspan><tspan x="24.8" textLength="9.9" lengthAdjust="spacingAndGlyphs">I</tspan><tspan x="34.7" textLength="18.5" lengthAdjust="spacingAndGlyphs">R</tspan><tspan x="52" textLength="22.1" lengthAdjust="spacingAndGlyphs">A</tspan></text>
<path d="M61.3,870.7 L64,870.7 L74.2,894.7 L52.2,894.7Z" fill="url(#lgC)"/>
<path d="M57,890.8 L59.33,886.13 L57.93,884.27 L61.2,883.8 L64.93,882.4 L65.4,886.13 L64,889.86 L64.93,894.3 L62.13,894.3 L61.67,890.8Z" fill="#e6eaf0"/>
<circle cx="17.1" cy="882.3" r="7.6" fill="url(#lgE)"/>
<path d="M12.5,878.5 q2,-2.5 5,-2.8 q-1,2 -2.4,3.2 q1.5,1 0.6,2.6 q-2,0.4 -3.2,-3z" fill="#4f7a52" opacity="0.8"/>
<path d="M10.2,884 q3,-1 5.5,0.6 q-2.2,1.6 -5,1.4z" fill="#ffffff" opacity="0.85"/>
<path d="M12.4,887.2 q1.8,-0.6 3,0.8 q-1.2,1.4 -2.4,0.6z" fill="#2d5a3a" opacity="0.8"/>
<path d="M40.2,874.2 l1.2,-0.5 l1.5,3.6 l1.2,1.9 l-0.6,1.3 l-1.4,0.5 l-0.5,-1.3 l0.7,-1.4z" fill="#c9d5e6" opacity="0.9"/>
<circle cx="90" cy="882.9" r="15" fill="#1f8ad3"/>
<g clip-path="url(#cR)">
<path d="M74.27,889.86 L76.13,888 L82.66,882.87 L84.76,883.8 L86.86,885.43 L89.66,884.03 L93.4,881.23 L96.66,883.57 L99.46,885.9 L102.73,885.43 L106,888 L106,898.73 L74.27,898.73Z" fill="#3a3c9d"/>
<path d="M76,892.6 Q90,887.6 104.5,889.6" fill="none" stroke="#ffffff" stroke-width="0.9"/>
<path d="M100.5,890.2 l3.6,-2.6 l1.2,0.4 l-2.4,3z" fill="#ffffff"/>
</g>
<ellipse cx="83.1" cy="879.2" rx="3.9" ry="1.5" fill="#eef3fa"/>
<ellipse cx="93.9" cy="877.1" rx="5.8" ry="2.1" fill="#eef3fa"/>
<text x="90" y="895.4" text-anchor="middle" font-family="'Liberation Sans', 'DejaVu Sans', sans-serif" font-weight="bold" font-size="3.6" fill="#ffffff" letter-spacing="0.1">RAMMB</text>
</g>
</svg>
</body>
</html>
